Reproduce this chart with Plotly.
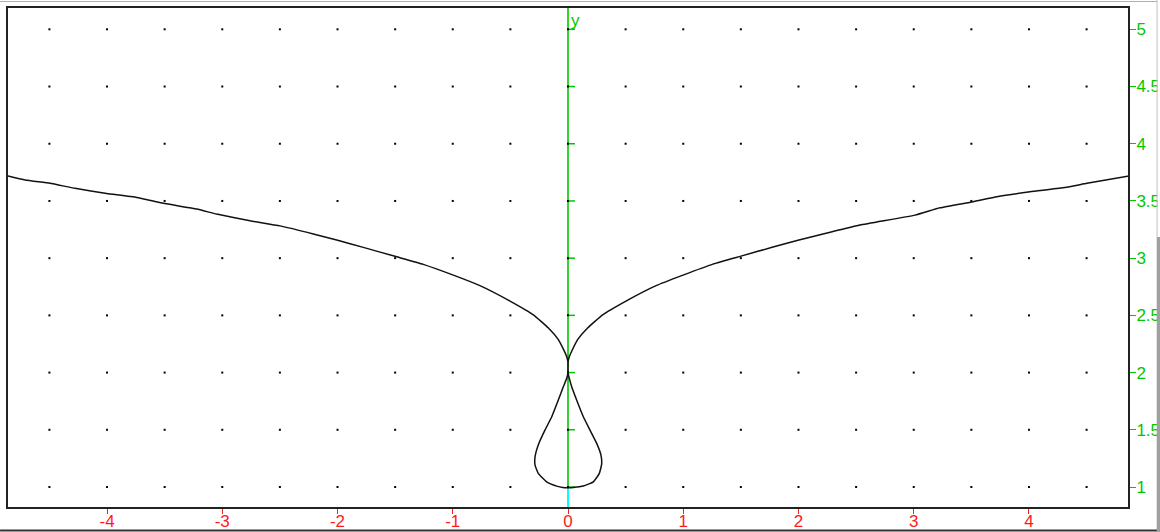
import numpy as np
import plotly.graph_objects as go

# Curve samples (x, y) traced along the path: left branch -> crossing -> loop -> right branch
left_x = [-4.868, -4.710, -4.495, -4.278, -4.003, -3.742, -3.512, -3.222, -3.049, -2.759,
          -2.499, -2.210, -2.007, -1.776, -1.501, -1.256, -0.995, -0.764, -0.503, -0.301,
          -0.170, -0.085, -0.038, -0.012, 0.0]
left_y = [3.720, 3.683, 3.654, 3.610, 3.566, 3.531, 3.479, 3.429, 3.385, 3.327,
          3.282, 3.212, 3.158, 3.094, 3.016, 2.946, 2.852, 2.760, 2.625, 2.505,
          2.390, 2.290, 2.200, 2.140, 2.090]

loop_x = [0.0, 0.011, 0.032, 0.075, 0.133, 0.191, 0.249, 0.286, 0.292, 0.272, 0.220,
          0.133, 0.046, 0.0, -0.046, -0.098, -0.185, -0.258, -0.286, -0.286, -0.258,
          -0.200, -0.141, -0.084, -0.041, -0.011, 0.0]
loop_y = [2.000, 1.950, 1.876, 1.760, 1.614, 1.497, 1.381, 1.279, 1.200, 1.119, 1.045,
          1.008, 0.996, 0.994, 0.996, 1.008, 1.045, 1.119, 1.191, 1.264, 1.368,
          1.497, 1.614, 1.760, 1.876, 1.950, 2.000]

right_x = [0.0, 0.012, 0.038, 0.085, 0.170, 0.301, 0.503, 0.764, 0.998, 1.258, 1.501,
           1.779, 2.004, 2.213, 2.534, 3.011, 3.228, 3.514, 3.722, 4.009, 4.295, 4.503, 4.868]
right_y = [2.090, 2.140, 2.200, 2.290, 2.390, 2.505, 2.625, 2.760, 2.852, 2.948, 3.018,
           3.097, 3.158, 3.211, 3.289, 3.376, 3.440, 3.493, 3.537, 3.580, 3.615, 3.654, 3.718]

# Axis ticks and dot grid
x_ticks = [-4, -3, -2, -1, 0, 1, 2, 3, 4]
x_tick_text = ["-4", "-3", "-2", "-1", "0", "1", "2", "3", "4"]
y_ticks = [1, 1.5, 2, 2.5, 3, 3.5, 4, 4.5, 5]
y_tick_text = ["1", "1.5", "2", "2.5", "3", "3.5", "4", "4.5", "5"]
grid_x = [-4.5, -4, -3.5, -3, -2.5, -2, -1.5, -1, -0.5, 0, 0.5, 1, 1.5, 2, 2.5, 3, 3.5, 4, 4.5]
grid_y = [1, 1.5, 2, 2.5, 3, 3.5, 4, 4.5, 5]

X_RANGE = [-4.868, 4.868]
Y_RANGE = [0.8165, 5.195]

GREEN = "#00c800"
RED = "#ff1a1a"
CYAN = "#00ffff"
FONT = "Arial, Liberation Sans, sans-serif"

fig = go.Figure()

gx, gy = np.meshgrid(grid_x, grid_y)
fig.add_trace(go.Scatter(
    x=gx.ravel(), y=gy.ravel(), mode="markers",
    marker=dict(symbol="square", size=2, color="black", line=dict(width=0)),
    hoverinfo="skip", showlegend=False,
))

curve_x = left_x + loop_x + right_x
curve_y = left_y + loop_y + right_y
fig.add_trace(go.Scatter(
    x=curve_x, y=curve_y, mode="lines",
    line=dict(color="#111111", width=1.5, shape="spline", smoothing=0.4),
    showlegend=False, cliponaxis=True,
))

shapes = []
# vertical y axis: green above y=1, cyan below
shapes.append(dict(type="line", xref="x", yref="y", x0=0, x1=0, y0=1, y1=Y_RANGE[1],
                   line=dict(color=GREEN, width=1.6), layer="below"))
shapes.append(dict(type="line", xref="x", yref="y", x0=0, x1=0, y0=Y_RANGE[0], y1=1,
                   line=dict(color=CYAN, width=2), layer="below"))
# short green ticks on the y axis
for v in y_ticks:
    shapes.append(dict(type="line", xref="x", yref="y", xsizemode="pixel", xanchor=0,
                       x0=0, x1=7, y0=v, y1=v, line=dict(color=GREEN, width=1.5),
                       layer="below"))

# plot frame
shapes.append(dict(type="rect", xref="paper", yref="paper", x0=0, x1=1, y0=0, y1=1,
                   line=dict(color="#222222", width=2), layer="above"))
# window chrome around the plot
shapes.append(dict(type="line", xref="paper", yref="paper", x0=-0.0062, x1=1.025,
                   y0=1.011, y1=1.011, line=dict(color="#b0b0b0", width=1), layer="above"))
shapes.append(dict(type="line", xref="paper", yref="paper", x0=-0.0062, x1=1.0276,
                   y0=-0.0449, y1=-0.0449, line=dict(color="#333333", width=2), layer="above"))
shapes.append(dict(type="rect", xref="paper", yref="paper", x0=1.0255, x1=1.03,
                   y0=0.541, y1=1.02, fillcolor="white", line=dict(width=0), layer="above"))
shapes.append(dict(type="line", xref="paper", yref="paper", x0=1.0250, x1=1.0250,
                   y0=0.541, y1=1.015, line=dict(color="#c0c0c0", width=1), layer="above"))
shapes.append(dict(type="rect", xref="paper", yref="paper", x0=1.0247, x1=1.03,
                   y0=-0.05, y1=0.541, fillcolor="#a0a0a0", line=dict(width=0), layer="above"))

fig.update_layout(
    width=1160, height=532,
    margin=dict(l=7, r=31, t=7, b=24, pad=0, autoexpand=False),
    paper_bgcolor="white", plot_bgcolor="white",
    shapes=shapes,
    xaxis=dict(range=X_RANGE, showgrid=False, zeroline=False, showline=False,
               automargin=False,
               tickmode="array", tickvals=x_ticks, ticktext=x_tick_text,
               ticks="outside", ticklen=5, tickwidth=1.2, tickcolor=RED,
               ticklabelstandoff=-7,
               tickfont=dict(family=FONT, size=17, color=RED)),
    yaxis=dict(range=Y_RANGE, side="right", showgrid=False, zeroline=False, showline=False,
               automargin=False,
               tickmode="array", tickvals=y_ticks, ticktext=y_tick_text,
               ticks="outside", ticklen=6, tickwidth=1.2, tickcolor=GREEN,
               ticklabelstandoff=-3,
               tickfont=dict(family=FONT, size=17, color=GREEN)),
    annotations=[dict(x=0, y=Y_RANGE[1], xref="x", yref="y", text="y", showarrow=False,
                      xanchor="left", yanchor="top", xshift=1, yshift=-2,
                      font=dict(family=FONT, size=17, color=GREEN))],
)

fig.write_html("out.html")
